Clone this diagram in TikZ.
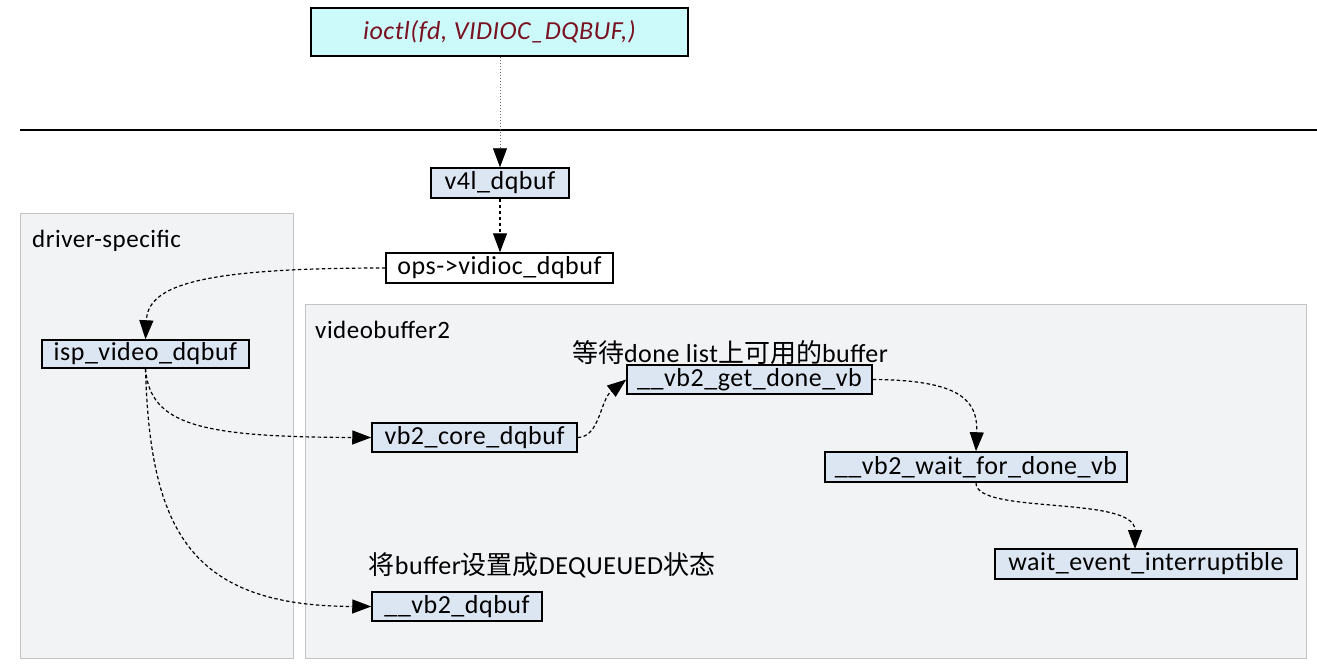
\documentclass[tikz,border=0pt]{standalone}
\usepackage{fontspec}
\setmainfont{Carlito}[LetterSpace=2]
\newfontfamily\cjk{Noto Sans CJK SC}
\usetikzlibrary{arrows.meta}
\definecolor{boxblue}{HTML}{DCE6F2}
\definecolor{cyanfill}{HTML}{CCFAFA}
\definecolor{grpfill}{HTML}{F2F3F5}
\definecolor{grpline}{HTML}{C4C4C4}
\definecolor{darkred}{HTML}{7A1020}
\tikzset{
  tip/.style={-{Triangle[length=19pt,width=14pt]}},
  fn/.style={draw=black, line width=1.5pt, fill=boxblue, inner sep=0pt, font=\fontsize{26}{28}\selectfont, text=black},
  grp/.style={draw=grpline, line width=1pt, fill=grpfill},
  lbl/.style={inner sep=0pt, font=\fontsize{25}{28}\selectfont, anchor=west},
  note/.style={inner sep=0pt, font=\fontsize{26}{28}\selectfont},
  flow/.style={line width=1.2pt, dash pattern=on 3.5pt off 2.5pt, tip},
}
\begin{document}
\begin{tikzpicture}[x=1pt,y=-1pt]
\useasboundingbox (0,0) rectangle (1317,665);
\fill[white] (0,0) rectangle (1317,665);
% groups
\draw[grp] (20,213) rectangle (293,658);
\draw[grp] (305,304) rectangle (1306,658);
\node[lbl] (lds) at (32,241) {driver-specific};
\node[lbl] (lvb) at (315,330) {videobuffer2};
% separator
\draw[line width=1.5pt] (20,130) -- (1317,130);
% nodes
\node[fn, fill=cyanfill, minimum width=377pt, minimum height=48pt, text=darkred, font=\fontsize{26}{28}\selectfont\itshape] (ioctl) at (499.5,32) {ioctl(fd, VIDIOC\_DQBUF,)};
\node[fn, minimum width=138pt, minimum height=30pt] (v4l) at (500,183) {v4l\_dqbuf};
\node[fn, fill=white, minimum width=227pt, minimum height=30pt] (ops) at (499.5,268) {ops->vidioc\_dqbuf};
\node[fn, minimum width=207pt, minimum height=28pt] (isp) at (145.5,354) {isp\_video\_dqbuf};
\node[fn, minimum width=245pt, minimum height=29pt] (getdone) at (749.5,379.5) {\_\_vb2\_get\_done\_vb};
\node[fn, minimum width=205pt, minimum height=29pt] (core) at (474.5,437.5) {vb2\_core\_dqbuf};
\node[fn, minimum width=302pt, minimum height=30pt] (waitfor) at (976,467) {\_\_vb2\_wait\_for\_done\_vb};
\node[fn, minimum width=302pt, minimum height=30pt] (waitev) at (1146,564) {wait\_event\_interruptible};
\node[fn, minimum width=170pt, minimum height=29pt] (dq) at (457,606.5) {\_\_vb2\_dqbuf};
% annotations
\node[note] (n1) at (730,353) {{\cjk 等待}done list{\cjk 上可用的}buffer};
\node[note] (n2) at (542,565) {{\cjk 将}buffer{\cjk 设置成}DEQUEUED{\cjk 状态}};
% connectors
\draw[line width=0.8pt, draw=black!60, dash pattern=on 1.5pt off 1.5pt, -{Triangle[length=19pt,width=14pt,fill=black,color=black]}] (ioctl.south -| v4l.north) -- (v4l.north);
\draw[flow] (v4l.south) -- (ops.north -| v4l.south);
\draw[flow] (ops.west) .. controls (200,268) and (148,285) .. (isp.north);
\draw[flow] (isp.south) .. controls (150,425) and (200,437) .. (core.west);
\draw[flow] (isp.south) .. controls (150,530) and (190,606) .. (dq.west);
\draw[flow] (core.east) .. controls (600,437) and (600,400) .. (getdone.west);
\draw[flow] (getdone.east) .. controls (960,380) and (978,400) .. (waitfor.north);
\draw[flow] (waitfor.south) .. controls (975,515) and (1135,495) .. (1135,549);
\end{tikzpicture}
\end{document}
